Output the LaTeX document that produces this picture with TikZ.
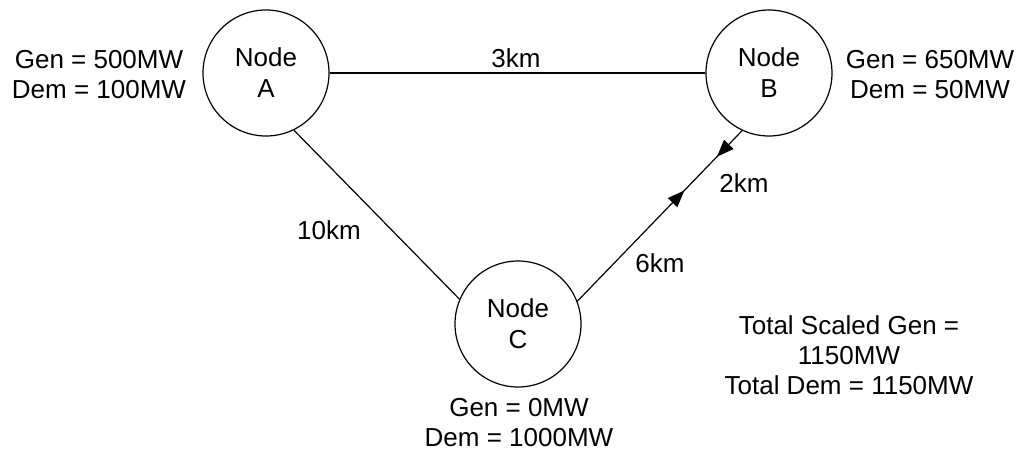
\documentclass[tikz,border=0pt]{standalone}
\usepackage{fontspec}
\setmainfont{Liberation Sans}
\usetikzlibrary{arrows.meta,decorations.markings}
\begin{document}
\begin{tikzpicture}[x=1pt,y=-1pt,
  bus/.style={circle, draw, line width=1.2pt, minimum size=126pt, inner sep=0pt, align=center, font=\fontsize{26}{31}\selectfont},
  lbl/.style={align=center, font=\fontsize{26}{30}\selectfont, inner sep=0pt},
  wire/.style={line width=1.2pt},
  head/.style={Triangle[length=17pt,width=13pt]}]
\useasboundingbox (0,0) rectangle (1020,452);
\node[bus] (A) at (266,73) {Node\\A};
\node[bus] (B) at (769,73) {Node\\B};
\node[bus] (C) at (518,324) {Node\\C};
\draw[wire] (A.east) -- (B.west);
\draw[wire] (A.-64.6) -- (C.157.6);
\draw[wire, postaction={decorate}, decoration={markings,
   mark=at position 154pt with {\arrow{Triangle[length=17pt,width=13pt]}},
   mark=at position 201pt with {\arrowreversed{Triangle[length=17pt,width=13pt]}}}]
   (C.21.6) -- (B.-115);
\node[lbl] (l3) at (516,58) {3km};
\node[lbl] (l10) at (329,230) {10km};
\node[lbl] (l6) at (660,263) {6km};
\node[lbl] (l2) at (744,183) {2km};
\node[lbl] (gA) at (99,75) {Gen = 500MW\\Dem = 100MW};
\node[lbl] (gB) at (930,75) {Gen = 650MW\\Dem = 50MW};
\node[lbl] (gC) at (519,423) {Gen = 0MW\\Dem = 1000MW};
\node[lbl] (tot) at (849,355) {Total Scaled Gen =\\1150MW\\Total Dem = 1150MW};
\end{tikzpicture}
\end{document}
